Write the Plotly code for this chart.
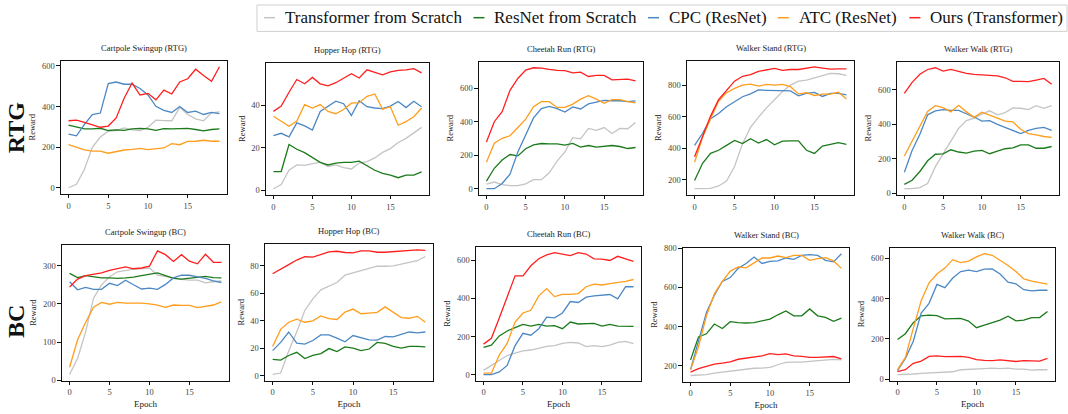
import plotly.graph_objects as go

# ---------------- data ----------------
epochs = list(range(20))
methods = ["Transformer from Scratch", "ResNet from Scratch", "CPC (ResNet)", "ATC (ResNet)", "Ours (Transformer)"]
colors = ["#c4c4c4", "#1b7a1b", "#4c88c4", "#ff9d1c", "#ff1f1f"]

panel_titles = ["Cartpole Swingup (RTG)", "Hopper Hop (RTG)", "Cheetah Run (RTG)", "Walker Stand (RTG)", "Walker Walk (RTG)",
                "Cartpole Swingup (BC)", "Hopper Hop (BC)", "Cheetah Run (BC)", "Walker Stand (BC)", "Walker Walk (BC)"]
y_dticks = [200, 20, 200, 200, 200, 100, 20, 200, 200, 200]
x_tickvals = [0, 5, 10, 15]

# RTG
cartpole_rtg_tf = [0, 17, 91, 199, 250, 279, 282, 295, 285, 282, 298, 333, 331, 330, 396, 361, 339, 330, 369, 374]
cartpole_rtg_resnet = [309, 298, 290, 290, 293, 282, 285, 283, 290, 293, 290, 283, 291, 290, 290, 293, 287, 280, 287, 290]
cartpole_rtg_cpc = [264, 256, 312, 360, 368, 513, 521, 510, 510, 489, 457, 401, 381, 371, 400, 371, 377, 361, 371, 365]
cartpole_rtg_atc = [212, 199, 186, 180, 180, 170, 177, 186, 189, 194, 188, 191, 196, 217, 212, 228, 229, 234, 229, 229]
cartpole_rtg_ours = [330, 333, 322, 309, 298, 304, 344, 441, 516, 457, 465, 433, 481, 462, 521, 537, 584, 553, 525, 596]

hopper_rtg_tf = [0.6, 2.6, 9.3, 11.8, 11.6, 12.4, 13.1, 11.1, 11.8, 10.5, 9.9, 12.7, 13.4, 15.1, 17.7, 19.5, 22.4, 24.3, 26.7, 29.5]
hopper_rtg_resnet = [8.7, 8.7, 21.4, 19.2, 17.6, 15.4, 13.0, 11.8, 12.7, 13.0, 13.0, 13.6, 11.5, 9.3, 7.8, 7.0, 5.8, 7.0, 7.0, 8.5]
hopper_rtg_cpc = [25.6, 26.7, 25.0, 31.6, 30.2, 28.2, 37.0, 39.5, 41.8, 40.6, 35.1, 42.0, 39.2, 38.6, 38.3, 39.5, 41.7, 38.8, 41.8, 39.2]
hopper_rtg_atc = [34.7, 32.4, 30.0, 32.5, 40.2, 38.6, 40.2, 37.0, 35.9, 37.9, 40.9, 41.1, 44.1, 45.2, 38.0, 39.2, 30.5, 32.2, 34.5, 38.6]
hopper_rtg_ours = [37.0, 39.5, 46.0, 52.0, 50.0, 53.0, 50.0, 49.0, 50.5, 52.7, 54.7, 52.7, 56.6, 55.4, 54.2, 55.6, 56.3, 56.5, 57.1, 55.1]

cheetah_rtg_tf = [28, 40, 25, 18, 18, 29, 54, 54, 95, 165, 220, 305, 298, 360, 348, 365, 330, 360, 358, 395]
cheetah_rtg_resnet = [45, 122, 171, 204, 196, 239, 262, 270, 268, 268, 260, 270, 248, 258, 248, 253, 258, 252, 240, 246]
cheetah_rtg_cpc = [0, 0, 31, 87, 219, 316, 423, 478, 491, 478, 458, 488, 476, 506, 516, 527, 525, 525, 520, 524]
cheetah_rtg_atc = [158, 272, 301, 316, 365, 415, 490, 520, 520, 485, 485, 505, 535, 555, 535, 510, 532, 532, 520, 512]
cheetah_rtg_ours = [279, 400, 460, 587, 658, 708, 722, 720, 712, 706, 705, 692, 696, 670, 676, 676, 650, 651, 654, 644]

wstand_rtg_tf = [142, 142, 144, 159, 190, 283, 428, 531, 597, 655, 707, 759, 800, 825, 831, 846, 858, 875, 872, 862]
wstand_rtg_resnet = [194, 303, 366, 386, 417, 448, 428, 459, 432, 454, 421, 444, 446, 446, 386, 366, 413, 423, 434, 423]
wstand_rtg_cpc = [417, 494, 587, 620, 663, 697, 726, 744, 769, 767, 767, 763, 763, 732, 748, 754, 728, 748, 748, 738]
wstand_rtg_atc = [310, 469, 587, 697, 752, 779, 800, 806, 794, 804, 800, 804, 790, 744, 752, 734, 742, 742, 754, 711]
wstand_rtg_ours = [345, 479, 603, 707, 763, 825, 856, 866, 887, 897, 906, 893, 899, 899, 908, 916, 908, 901, 903, 903]

wwalk_rtg_tf = [26, 26, 32, 56, 154, 229, 308, 376, 421, 436, 459, 478, 455, 468, 495, 493, 485, 508, 493, 508]
wwalk_rtg_resnet = [51, 75, 126, 188, 226, 228, 252, 239, 233, 244, 248, 229, 244, 258, 263, 280, 280, 261, 261, 271]
wwalk_rtg_cpc = [122, 248, 342, 455, 478, 485, 481, 481, 461, 442, 418, 421, 399, 380, 361, 346, 365, 376, 382, 365]
wwalk_rtg_atc = [216, 305, 393, 474, 508, 497, 472, 510, 472, 440, 470, 455, 436, 418, 414, 371, 346, 339, 329, 324]
wwalk_rtg_ours = [579, 643, 690, 718, 728, 709, 718, 705, 696, 690, 688, 685, 681, 670, 649, 649, 647, 656, 666, 632]

# BC
cartpole_bc_tf = [15, 57, 126, 215, 250, 271, 284, 287, 291, 292, 294, 275, 272, 268, 264, 262, 262, 255, 258, 260]
cartpole_bc_resnet = [280, 269, 274, 271, 268, 268, 267, 268, 270, 274, 277, 281, 274, 267, 265, 268, 271, 272, 269, 268]
cartpole_bc_cpc = [258, 237, 243, 238, 238, 254, 248, 262, 250, 239, 241, 238, 251, 268, 275, 275, 271, 267, 260, 256]
cartpole_bc_atc = [34, 106, 151, 191, 204, 199, 204, 202, 202, 202, 200, 197, 191, 197, 196, 196, 190, 194, 197, 205]
cartpole_bc_ours = [244, 265, 274, 277, 281, 288, 292, 297, 292, 294, 299, 339, 329, 311, 329, 312, 305, 330, 309, 309]

hopper_bc_tf = [1, 2, 18, 32, 47.6, 56, 62.6, 65.5, 67.9, 73.3, 75, 76.2, 77.9, 79.8, 79.8, 80, 81.4, 82.6, 83.8, 86.9]
hopper_bc_resnet = [11.9, 11.4, 14.8, 17.1, 12.6, 14.8, 16.2, 19.8, 17.6, 21, 20.2, 18.3, 19.5, 24.3, 23.6, 21.4, 20.2, 21.4, 21.4, 21]
hopper_bc_cpc = [18.3, 24.3, 31.9, 23.8, 23.1, 25.7, 29.8, 29.8, 27.4, 24.8, 29.3, 27.9, 26.2, 26, 28.6, 28.3, 30.2, 31.9, 31.2, 31.9]
hopper_bc_atc = [21.4, 33.8, 39, 41.2, 39, 40, 43.6, 41.7, 41, 46.4, 48.6, 45.2, 45.7, 46.2, 50.2, 46.4, 42.4, 41.9, 43.3, 39]
hopper_bc_ours = [74.3, 77.4, 81, 84.3, 86.7, 86.4, 88.1, 90.2, 90.7, 89.8, 89.5, 91, 91, 90, 90, 90.5, 90.5, 91, 91.7, 91.4]

cheetah_bc_tf = [22, 48, 72, 100, 112, 124, 129, 138, 148, 152, 164, 169, 166, 147, 152, 147, 155, 169, 174, 162]
cheetah_bc_resnet = [143, 155, 203, 229, 247, 264, 255, 264, 255, 257, 241, 276, 266, 267, 269, 255, 264, 255, 253, 253]
cheetah_bc_cpc = [0, 0, 14, 48, 152, 217, 207, 241, 302, 298, 324, 384, 379, 407, 414, 417, 421, 398, 462, 462]
cheetah_bc_atc = [7, 7, 103, 164, 276, 324, 338, 414, 452, 410, 422, 422, 426, 462, 476, 471, 478, 483, 490, 500]
cheetah_bc_ours = [160, 191, 298, 410, 519, 519, 572, 609, 629, 641, 634, 626, 641, 634, 609, 607, 600, 622, 609, 595]

wstand_bc_tf = [150, 153, 155, 162, 167, 172, 177, 182, 187, 188, 192, 205, 217, 218, 218, 222, 225, 230, 232, 230]
wstand_bc_resnet = [230, 347, 363, 413, 390, 425, 420, 418, 420, 430, 438, 460, 480, 455, 455, 490, 455, 447, 427, 443]
wstand_bc_cpc = [180, 333, 472, 560, 630, 650, 697, 722, 755, 722, 733, 735, 750, 743, 763, 767, 763, 738, 730, 772]
wstand_bc_atc = [180, 297, 455, 567, 630, 683, 705, 700, 725, 750, 750, 760, 752, 763, 763, 738, 747, 752, 735, 697]
wstand_bc_ours = [167, 185, 197, 208, 213, 220, 233, 238, 243, 250, 262, 257, 260, 250, 248, 243, 243, 245, 247, 235]

wwalk_bc_tf = [23, 23, 26, 29, 31, 35, 35, 37, 47, 48, 50, 53, 55, 53, 55, 50, 50, 45, 47, 47]
wwalk_bc_resnet = [197, 226, 281, 315, 318, 316, 300, 300, 302, 289, 256, 269, 281, 294, 313, 290, 294, 306, 306, 337]
wwalk_bc_cpc = [42, 103, 189, 329, 377, 471, 455, 503, 535, 542, 535, 547, 548, 523, 482, 474, 445, 439, 442, 442]
wwalk_bc_atc = [48, 108, 253, 390, 479, 523, 552, 594, 579, 587, 608, 624, 616, 592, 565, 535, 498, 487, 479, 473]
wwalk_bc_ours = [38, 47, 79, 90, 113, 116, 112, 113, 113, 108, 97, 94, 92, 96, 92, 88, 92, 92, 90, 103]

panels = [
    [cartpole_rtg_tf, cartpole_rtg_resnet, cartpole_rtg_cpc, cartpole_rtg_atc, cartpole_rtg_ours],
    [hopper_rtg_tf, hopper_rtg_resnet, hopper_rtg_cpc, hopper_rtg_atc, hopper_rtg_ours],
    [cheetah_rtg_tf, cheetah_rtg_resnet, cheetah_rtg_cpc, cheetah_rtg_atc, cheetah_rtg_ours],
    [wstand_rtg_tf, wstand_rtg_resnet, wstand_rtg_cpc, wstand_rtg_atc, wstand_rtg_ours],
    [wwalk_rtg_tf, wwalk_rtg_resnet, wwalk_rtg_cpc, wwalk_rtg_atc, wwalk_rtg_ours],
    [cartpole_bc_tf, cartpole_bc_resnet, cartpole_bc_cpc, cartpole_bc_atc, cartpole_bc_ours],
    [hopper_bc_tf, hopper_bc_resnet, hopper_bc_cpc, hopper_bc_atc, hopper_bc_ours],
    [cheetah_bc_tf, cheetah_bc_resnet, cheetah_bc_cpc, cheetah_bc_atc, cheetah_bc_ours],
    [wstand_bc_tf, wstand_bc_resnet, wstand_bc_cpc, wstand_bc_atc, wstand_bc_ours],
    [wwalk_bc_tf, wwalk_bc_resnet, wwalk_bc_cpc, wwalk_bc_atc, wwalk_bc_ours],
]

# ---------------- layout geometry (pixels) ----------------
W, H = 1068, 414
# (left, right, top, bottom) of each axes box
boxes = [
    (61, 227, 58, 194), (266, 429, 60, 195), (479, 643, 59, 195), (687, 854, 58, 195), (897, 1059, 59, 195),
    (62, 229, 246, 385), (265, 433, 245, 385), (476, 641, 248, 385), (683, 849, 249, 386), (890, 1055, 249, 385),
]

FONT = "Liberation Serif"
fig = go.Figure()
layout = dict(
    width=W, height=H, margin=dict(l=0, r=0, t=0, b=0),
    paper_bgcolor="white", plot_bgcolor="white", showlegend=False,
    font=dict(family=FONT, color="#222"),
)
annotations = []
shapes = []

for i, (series, box) in enumerate(zip(panels, boxes)):
    k = i + 1
    xa = "x" if k == 1 else f"x{k}"
    ya = "y" if k == 1 else f"y{k}"
    for j, vals in enumerate(series):
        fig.add_trace(go.Scatter(x=epochs, y=vals, mode="lines", name=methods[j],
                                 line=dict(color=colors[j], width=1.3), xaxis=xa, yaxis=ya,
                                 showlegend=False))
    allv = [v for s in series for v in s]
    lo, hi = min(allv), max(allv)
    pad = 0.05 * (hi - lo)
    l, r, t, b = box
    axis_common = dict(showline=True, mirror=True, linecolor="#111", linewidth=1.2,
                       ticks="outside", ticklen=3.5, tickwidth=1, tickcolor="#111",
                       showgrid=False, zeroline=False,
                       tickfont=dict(family=FONT, size=8.5, color="#444"))
    layout[f"xaxis{'' if k == 1 else k}"] = dict(
        domain=[l / W, r / W], anchor=ya, range=[-0.95, 19.95],
        tickmode="array", tickvals=x_tickvals,
        title=dict(text="Epoch", font=dict(family=FONT, size=9, color="#222"), standoff=4) if k > 5 else None,
        **axis_common)
    layout[f"yaxis{'' if k == 1 else k}"] = dict(
        domain=[1 - b / H, 1 - t / H], anchor=xa, range=[lo - pad, hi + pad],
        tickmode="linear", tick0=0, dtick=y_dticks[i],
        title=dict(text="Reward", font=dict(family=FONT, size=8.5, color="#222"), standoff=4),
        **axis_common)
    annotations.append(dict(text=panel_titles[i], xref=f"{xa} domain", yref=f"{ya} domain",
                            x=0.5, y=1, yanchor="bottom", xanchor="center", yshift=6,
                            showarrow=False, font=dict(family=FONT, size=8.5, color="#222")))

# row labels
annotations.append(dict(text="<b>RTG</b>", xref="paper", yref="paper", x=16 / W, y=1 - 127 / H,
                        xanchor="center", yanchor="middle",
                        textangle=-90, showarrow=False, font=dict(family=FONT, size=24, color="#111")))
annotations.append(dict(text="<b>BC</b>", xref="paper", yref="paper", x=16 / W, y=1 - 325 / H,
                        xanchor="center", yanchor="middle",
                        textangle=-90, showarrow=False, font=dict(family=FONT, size=24, color="#111")))

# legend (drawn manually to mimic the compact matplotlib legend)
times_w = {"T": 611, "r": 333, "a": 444, "n": 500, "s": 389, "f": 333, "o": 500, "m": 778, "e": 444,
           " ": 250, "S": 556, "c": 444, "t": 278, "h": 500, "R": 667, "N": 722, "C": 667, "P": 556,
           "(": 333, ")": 333, "A": 722, "O": 722, "u": 500}
LFS = 17
def text_w(s):
    return sum(times_w.get(ch, 500) for ch in s) / 1000 * LFS

dash, gap_dt, gap_td = 11, 8, 13
x_cursor = 1062
starts = []
for name in reversed(methods):
    tw = text_w(name)
    ts = x_cursor - tw
    ds = ts - gap_dt - dash
    starts.append((name, ds, ts))
    x_cursor = ds - gap_td
starts.reverse()
leg_left = starts[0][1] - 7
ly = 14
shapes.append(dict(type="rect", xref="paper", yref="paper", x0=leg_left / W, x1=1067 / W,
                   y0=1 - 28 / H, y1=1 - 1 / H, line=dict(color="#d0d0d0", width=1), fillcolor="white"))
for (name, ds, ts), c in zip(starts, colors):
    shapes.append(dict(type="line", xref="paper", yref="paper", x0=ds / W, x1=(ds + dash) / W,
                       y0=1 - ly / H, y1=1 - ly / H, line=dict(color=c, width=1.5)))
    annotations.append(dict(text=name, xref="paper", yref="paper", x=ts / W, y=1 - ly / H,
                            xanchor="left", yanchor="middle", showarrow=False,
                            font=dict(family=FONT, size=LFS, color="#111")))

layout["annotations"] = annotations
layout["shapes"] = shapes
fig.update_layout(**layout)
fig.write_html("out.html")
